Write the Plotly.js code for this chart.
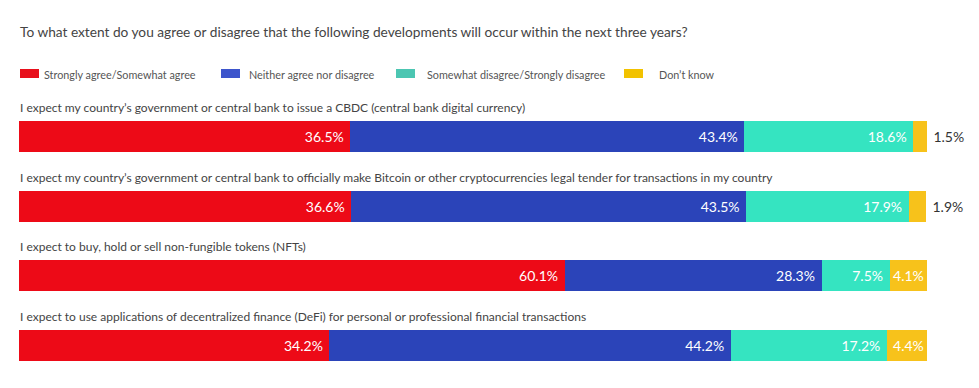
<!DOCTYPE html>
<html>
<head>
<meta charset="utf-8">
<script src="https://cdn.plot.ly/plotly-3.0.1.min.js"></script>
<style>html,body{margin:0;padding:0;background:#fff;}#chart{width:979px;height:388px;}</style>
</head>
<body>
<div id="chart"></div>
<script>
var categories = [
  "I expect my country\u2019s government or central bank to issue a CBDC (central bank digital currency)",
  "I expect my country\u2019s government or central bank to officially make Bitcoin or other cryptocurrencies legal tender for transactions in my country",
  "I expect to buy, hold or sell non-fungible tokens (NFTs)",
  "I expect to use applications of decentralized finance (DeFi) for personal or professional financial transactions"
];
var seriesNames = ["Strongly agree/Somewhat agree", "Neither agree nor disagree", "Somewhat disagree/Strongly disagree", "Don\u2019t know"];
var agree = [36.5, 36.6, 60.1, 34.2];
var neither = [43.4, 43.5, 28.3, 44.2];
var disagree = [18.6, 17.9, 7.5, 17.2];
var dontKnow = [1.5, 1.9, 4.1, 4.4];
var chartTitle = "To what extent do you agree or disagree that the following developments will occur within the next three years?";

var W = 979, H = 388;
var M = {l: 19, r: 52, t: 80, b: 0};
var pw = W - M.l - M.r, ph = H - M.t - M.b;
function px2x(px) { return (px - M.l) / pw; }
function px2y(py) { return (H - M.b - py) / ph; }

var barColors = ["#ED0A17", "#2B44B9", "#35E4C1", "#F7C21B"];
var legendColors = ["#E8101C", "#3D55CC", "#4CC6B2", "#F2C200"];
var FONT = "Lato, 'Open Sans', sans-serif";
var values = [agree, neither, disagree, dontKnow];

var traces = values.map(function (v, i) {
  var last = (i === values.length - 1);
  var pos = v.map(function (d) { return (last && d < 3) ? "outside" : "inside"; });
  return {
    type: "bar",
    orientation: "h",
    name: seriesNames[i],
    y: categories,
    x: v,
    width: 0.445,
    marker: {color: barColors[i]},
    text: v.map(function (d, k) {
      var s = d.toFixed(1) + "%";
      if (pos[k] === "outside") return "\u00a0" + s;
      return d < 6 ? s : s + "\u00a0";
    }),
    textposition: pos,
    textangle: 0,
    insidetextanchor: "end",
    constraintext: "none",
    cliponaxis: false,
    insidetextfont: {color: "#ffffff", size: 14, family: FONT},
    outsidetextfont: {color: "#333333", size: 14, family: FONT},
    hoverinfo: "none",
    showlegend: false
  };
});

var shapes = [];
var annotations = [];
var legSw = [20, 221, 396, 624];
var legTx = [43, 248, 426, 658];
for (var i = 0; i < seriesNames.length; i++) {
  shapes.push({type: "rect", xref: "paper", yref: "paper",
    x0: px2x(legSw[i]), x1: px2x(legSw[i] + 19), y0: px2y(78), y1: px2y(69),
    fillcolor: legendColors[i], line: {width: 0}});
  annotations.push({xref: "paper", yref: "paper", x: px2x(legTx[i]), y: px2y(74),
    xanchor: "left", yanchor: "middle", showarrow: false, text: seriesNames[i],
    font: {family: FONT, size: 10.8, color: "#555555"}, borderpad: 0});
}
categories.forEach(function (c) {
  annotations.push({xref: "paper", yref: "y", x: 0, y: c, yshift: 29,
    xanchor: "left", yanchor: "middle", showarrow: false, text: c,
    font: {family: FONT, size: 12, color: "#444444"}, borderpad: 0});
});

var layout = {
  width: W, height: H,
  margin: M,
  paper_bgcolor: "#ffffff", plot_bgcolor: "#ffffff",
  barmode: "stack",
  title: {text: chartTitle, x: 20 / W, xanchor: "left", xref: "container",
    y: 1 - 32 / H, yanchor: "middle", yref: "container",
    font: {family: FONT, size: 13.7, color: "#444444"}},
  xaxis: {range: [0, 100.02], visible: false, fixedrange: true},
  yaxis: {type: "category", categoryorder: "array", categoryarray: categories,
    range: [3.61, -0.811], visible: false, fixedrange: true},
  shapes: shapes,
  annotations: annotations,
  showlegend: false
};

Plotly.newPlot("chart", traces, layout, {displayModeBar: false, staticPlot: true});
</script>
</body>
</html>
